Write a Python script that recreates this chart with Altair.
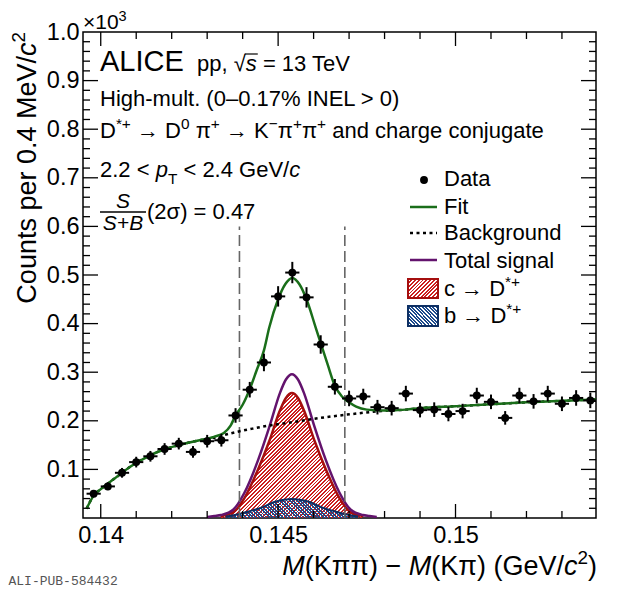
import altair as alt
import pandas as pd

# ---------------- values ----------------
mass = [0.1398, 0.1402, 0.1406, 0.1410, 0.1414, 0.1418, 0.1422, 0.1426, 0.1430, 0.1434,
        0.1438, 0.1442, 0.1446, 0.1450, 0.1454, 0.1458, 0.1462, 0.1466, 0.1470, 0.1474,
        0.1478, 0.1482, 0.1486, 0.1490, 0.1494, 0.1498, 0.1502, 0.1506, 0.1510, 0.1514,
        0.1518, 0.1522, 0.1526, 0.1530, 0.1534, 0.1538]
counts = [50, 65, 93, 115, 127, 142, 153, 136, 158, 160,
          211, 264, 320, 456, 505, 454, 357, 270, 246, 250,
          228, 226, 256, 222, 223, 214, 220, 252, 239, 206,
          252, 240, 256, 235, 247, 242]
errors = [7, 8, 10, 11, 11, 12, 12, 12, 13, 13,
          15, 16, 18, 21, 22, 21, 19, 16, 16, 16,
          15, 15, 16, 15, 15, 15, 15, 16, 15, 14,
          16, 15, 16, 15, 16, 16]
half_bin = 0.0002

fit_x = [0.13960, 0.13980, 0.14001, 0.14037, 0.14084, 0.14131, 0.14178, 0.14225, 0.14272, 0.14319,
         0.14347, 0.14366, 0.14380, 0.14400, 0.14420, 0.14440, 0.14460, 0.14475, 0.14500, 0.14520,
         0.14540, 0.14560, 0.14580, 0.14605, 0.14620, 0.14640, 0.14660, 0.14680, 0.14700, 0.14720,
         0.14750, 0.14800, 0.14860, 0.14900, 0.15000, 0.15100, 0.15200, 0.15300, 0.15396]
fit_y = [19, 46, 60, 80, 106, 126, 141, 151, 159, 167,
         175, 190, 211, 233, 265, 305, 345, 392, 450, 481,
         494, 481, 450, 394, 360, 315, 272, 250, 238, 229,
         223, 221, 223, 226, 230, 234, 238, 241, 244]

bkg_x = [0.13960, 0.13980, 0.14001, 0.14037, 0.14084, 0.14131, 0.14178, 0.14225, 0.14272, 0.14319,
         0.14365, 0.14395, 0.14422, 0.14480, 0.14538, 0.14600, 0.14686, 0.14790, 0.14860, 0.14900,
         0.15000, 0.15100, 0.15200, 0.15300, 0.15396]
bkg_y = [19, 46, 60, 80, 106, 126, 141, 151, 159, 165,
         174, 179, 183, 191, 197, 204, 212, 220, 223, 226,
         230, 234, 238, 241, 244]

sig_x = [0.14300, 0.14320, 0.14339, 0.14374, 0.14405, 0.14444, 0.14476, 0.14505, 0.14522, 0.14539,
         0.14556, 0.14573, 0.14602, 0.14634, 0.14673, 0.14704, 0.14739, 0.14758, 0.14778]
sig_y = [2, 4, 6, 17.5, 52, 120, 189, 257, 285, 296,
         285, 257, 189, 120, 52, 17.5, 6, 4, 2]

c_x = [0.14337, 0.14374, 0.14405, 0.14444, 0.14476, 0.14505, 0.14522, 0.14539,
       0.14556, 0.14573, 0.14602, 0.14634, 0.14673, 0.14704, 0.14741]
c_y = [4, 12, 41, 101, 160, 221, 247, 257, 247, 221, 160, 101, 41, 12, 4]

b_x = [0.14352, 0.14384, 0.14419, 0.14448, 0.14494, 0.14517, 0.14539,
       0.14561, 0.14584, 0.14630, 0.14659, 0.14694, 0.14726]
b_y = [2.5, 7, 14, 20, 34, 37.5, 39, 37.5, 34, 20, 14, 7, 2.5]

window_x = [0.14391, 0.14688]
window_top = 600

x_major = [0.140, 0.145, 0.150]
x_minor = [0.141, 0.142, 0.143, 0.144, 0.146, 0.147, 0.148, 0.149, 0.151, 0.152, 0.153]
y_labels = [100, 200, 300, 400, 500, 600, 700, 800, 900, 1000]
y_minor = [v for v in range(20, 1000, 20) if v % 100 != 0]

# ---------------- geometry / style ----------------
XD = [0.1395, 0.15396]
YD = [0, 1000]
PW, PH = 513, 486
OX, OY = 83, 32          # page position of plot origin
FONT = "Liberation Sans"
GREEN = "#1a6e1a"
PURPLE = "#63136d"
RED = "#cc1f1f"
RED_LINE = "#a50f0f"
BLUE = "#1c4a8c"
BLUE_LINE = "#0d2f63"

xs = alt.Scale(domain=XD, nice=False, zero=False)
ys = alt.Scale(domain=YD, nice=False, zero=False)
ax_x = alt.Axis(values=x_major, format=".3~f", title=None, ticks=False, tickSize=0, domain=False,
                grid=False, labelFont=FONT, labelFontSize=23.5, labelColor="black",
                labelPadding=5, labelFlush=False, labelOverlap=False)
ax_y = alt.Axis(values=y_labels, labelExpr="format(datum.value/1000, '.1f')", title=None,
                ticks=False, tickSize=0, domain=False, grid=False, labelFont=FONT,
                labelFontSize=23.5, labelColor="black", labelPadding=4, labelFlush=False,
                labelOverlap=False)


def X(f):
    return alt.X(f, scale=xs, axis=ax_x)


def Y(f):
    return alt.Y(f, scale=ys, axis=ax_y)


def hatch(color, W, H, period, frac, direction):
    n = max(1, round((W + H) / (2 ** 0.5 * period)))
    k = (W + H) / (W * W + H * H)
    if direction == "/":
        x1, y1, x2, y2 = 0, 0, W * k, H * k
    else:
        x1, y1, x2, y2 = 0, 1, W * k, 1 - H * k
    clear = "rgba(255,255,255,0)"
    stops = []
    for i in range(n):
        a = i / n
        b = min(1.0, (i + frac) / n)
        c = min(1.0, (i + 1) / n)
        stops += [alt.GradientStop(offset=a, color=color), alt.GradientStop(offset=b, color=color),
                  alt.GradientStop(offset=b, color=clear), alt.GradientStop(offset=c, color=clear)]
    return alt.Gradient(gradient="linear", stops=stops, x1=x1, y1=y1, x2=x2, y2=y2)


# ---------------- text layout helpers ----------------
WT = {' ': 278, '!': 278, '%': 889, '(': 333, ')': 333, '*': 389, '+': 584, ',': 278, '-': 333,
      '.': 278, '/': 278, '<': 584, '=': 584, '>': 584,
      'A': 667, 'B': 667, 'C': 722, 'D': 722, 'E': 667, 'G': 778, 'H': 722, 'I': 278, 'K': 667,
      'L': 556, 'M': 833, 'N': 722, 'S': 667, 'T': 611, 'V': 667,
      'a': 556, 'b': 556, 'c': 500, 'd': 556, 'e': 556, 'g': 556, 'h': 556, 'i': 222, 'j': 222,
      'k': 500, 'l': 222, 'm': 833, 'n': 556, 'o': 556, 'p': 556, 'r': 333, 's': 500, 't': 278,
      'u': 556, 'v': 500, '–': 556, '−': 584, '→': 1000, 'π': 690, 'σ': 620, '√': 549, '×': 584}


def tw(s, size):
    return sum(WT.get(ch, 556) for ch in s) / 1000.0 * size


rows = []


def seg_rows(segs, x, y, size, angle=0):
    """Place text segments one after another; leading/trailing blanks become offsets
    (Vega trims blanks from text)."""
    pos = 0.0
    for text, kind in segs:
        s, off = size, 0.0
        if kind in ("sup", "isup"):
            s, off = size * 0.7, -0.42 * size
        elif kind == "sub":
            s, off = size * 0.7, 0.3 * size
        italic = kind in ("i", "isup")
        lead = len(text) - len(text.lstrip(" "))
        start = pos + tw(" " * lead, s)
        if angle == 0:
            px, py = x + start, y + off
        else:
            px, py = x + off, y - start
        core = text.strip(" ")
        if core:
            rows.append(dict(xo=px, yo=py, t=core, s=s, it=italic, a=angle))
        pos += tw(text, s)
    return pos


def total(segs, size):
    t = 0.0
    for text, kind in segs:
        t += tw(text, size * 0.7 if kind in ("sup", "isup", "sub") else size)
    return t


seg_rows([("×10", "n")], 83, 29, 21)
rows.append(dict(xo=83 + tw("×10", 21), yo=21, t="3", s=14.5, it=False, a=0))
seg_rows([("ALICE", "n")], 100, 71, 29)
pp_segs = [("pp, ", "n"), ("√", "n"), ("s", "i"), (" = 13 TeV", "n")]
seg_rows(pp_segs, 197, 71, 22)
s_x0 = 197 + tw("pp, √", 22)
seg_rows([("High-mult. (0–0.17% INEL > 0)", "n")], 100, 106, 22)
seg_rows([("D", "n"), ("*+", "sup"), (" → D", "n"), ("0", "sup"), (" π", "n"), ("+", "sup"),
          (" → K", "n"), ("−", "sup"), ("π", "n"), ("+", "sup"), ("π", "n"), ("+", "sup"),
          (" and charge conjugate", "n")], 100, 138, 22)
seg_rows([("2.2 < ", "n"), ("p", "i"), ("T", "sub"), (" < 2.4 GeV/", "n"), ("c", "i")], 100, 177, 22)
seg_rows([("S", "i")], 123 - tw("S", 21) / 2, 208, 21)
seg_rows([("S+B", "i")], 123 - tw("S+B", 21) / 2, 230, 21)
seg_rows([("(2σ) = 0.47", "n")], 147, 219, 22)
# legend labels
seg_rows([("Data", "n")], 444, 186, 22)
seg_rows([("Fit", "n")], 444, 214, 22)
seg_rows([("Background", "n")], 444, 240, 22)
seg_rows([("Total signal", "n")], 444, 268, 22)
seg_rows([("c → D", "n"), ("*+", "sup")], 444, 296, 22)
seg_rows([("b → D", "n"), ("*+", "sup")], 444, 323, 22)
# axis titles
xt = [("M", "i"), ("(Kππ) − ", "n"), ("M", "i"), ("(Kπ) (GeV/", "n"), ("c", "i"), ("2", "sup"), (")", "n")]
seg_rows(xt, 597 - total(xt, 27), 575, 27)
yt = [("Counts per 0.4 MeV/", "n"), ("c", "i"), ("2", "sup")]
seg_rows(yt, 36, 32 + total(yt, 27), 27, angle=270)


def to_data(xo, yo):
    return (XD[0] + (xo - OX) / PW * (XD[1] - XD[0]),
            YD[1] - (yo - OY) / PH * (YD[1] - YD[0]))


for r in rows:
    r["xd"], r["yd"] = to_data(r["xo"], r["yo"])
txt = pd.DataFrame(rows)

mono_x, mono_y = to_data(8.5, 585)
mono = pd.DataFrame({"xd": [mono_x], "yd": [mono_y], "t": ["ALI-PUB-584432"]})

# ---------------- data frames ----------------
pts = pd.DataFrame({"m": mass, "n": counts, "e": errors})
pts["lo"] = pts["n"] - pts["e"]
pts["hi"] = pts["n"] + pts["e"]
pts["xl"] = pts["m"] - half_bin
pts["xh"] = pts["m"] + half_bin

fit = pd.DataFrame({"m": fit_x, "n": fit_y})
bkg = pd.DataFrame({"m": bkg_x, "n": bkg_y})
sig = pd.DataFrame({"m": sig_x, "n": sig_y})
cc = pd.DataFrame({"m": c_x, "n": c_y})
bb = pd.DataFrame({"m": b_x, "n": b_y})
win = pd.DataFrame({"m": window_x, "lo": [0, 0], "hi": [window_top, window_top]})

W_RED = (max(c_x) - min(c_x)) / (XD[1] - XD[0]) * PW
H_RED = max(c_y) / YD[1] * PH
W_BLUE = (max(b_x) - min(b_x)) / (XD[1] - XD[0]) * PW
H_BLUE = max(b_y) / YD[1] * PH

layers = []
# filled components
layers.append(alt.Chart(cc).mark_area(interpolate="monotone",
              fill=hatch(RED, W_RED, H_RED, 2.6, 0.5, "/")).encode(x=X("m:Q"), y=Y("n:Q")))
layers.append(alt.Chart(bb).mark_area(interpolate="monotone",
              fill=hatch(BLUE, W_BLUE, H_BLUE, 2.4, 0.55, "\\")).encode(x=X("m:Q"), y=Y("n:Q")))
layers.append(alt.Chart(cc).mark_line(interpolate="monotone", color=RED_LINE, strokeWidth=2.5)
              .encode(x=X("m:Q"), y=Y("n:Q")))
layers.append(alt.Chart(bb).mark_line(interpolate="monotone", color=BLUE_LINE, strokeWidth=2)
              .encode(x=X("m:Q"), y=Y("n:Q")))
layers.append(alt.Chart(sig).mark_line(interpolate="monotone", color=PURPLE, strokeWidth=2.5)
              .encode(x=X("m:Q"), y=Y("n:Q")))
# 2 sigma window
layers.append(alt.Chart(win).mark_rule(color="#666666", strokeDash=[11, 5], strokeWidth=1.6)
              .encode(x=X("m:Q"), y=Y("lo:Q"), y2="hi:Q"))
# background and fit
layers.append(alt.Chart(bkg).mark_line(interpolate="monotone", color="black", strokeWidth=2.5,
                                       strokeDash=[3, 3.5]).encode(x=X("m:Q"), y=Y("n:Q")))
layers.append(alt.Chart(fit).mark_line(interpolate="monotone", color=GREEN, strokeWidth=2.5, clip=True)
              .encode(x=X("m:Q"), y=Y("n:Q")))
# data
layers.append(alt.Chart(pts).mark_rule(color="black", strokeWidth=2)
              .encode(x=X("m:Q"), y=Y("lo:Q"), y2="hi:Q"))
layers.append(alt.Chart(pts).mark_rule(color="black", strokeWidth=2, clip=True)
              .encode(x=X("xl:Q"), x2="xh:Q", y=Y("n:Q")))
layers.append(alt.Chart(pts).mark_point(filled=True, shape="circle", size=62, color="black", opacity=1)
              .encode(x=X("m:Q"), y=Y("n:Q")))

# frame ticks (inside, on all four sides)
xM = pd.DataFrame({"v": x_major})
xm = pd.DataFrame({"v": x_minor})
yM = pd.DataFrame({"v": y_labels[:-1]})
ym = pd.DataFrame({"v": y_minor})
tk = dict(color="black", strokeWidth=1.3)
for df, L in ((xM, 14), (xm, 7)):
    layers.append(alt.Chart(df).mark_rule(**tk).encode(x=X("v:Q"), y=alt.value(PH), y2=alt.value(PH - L)))
    layers.append(alt.Chart(df).mark_rule(**tk).encode(x=X("v:Q"), y=alt.value(0), y2=alt.value(L)))
for df, L in ((yM, 15), (ym, 7)):
    layers.append(alt.Chart(df).mark_rule(**tk).encode(y=Y("v:Q"), x=alt.value(0), x2=alt.value(L)))
    layers.append(alt.Chart(df).mark_rule(**tk).encode(y=Y("v:Q"), x=alt.value(PW), x2=alt.value(PW - L)))

# legend symbols
leg = pd.DataFrame({"k": [0]})
layers.append(alt.Chart(leg).mark_point(filled=True, shape="circle", size=62, color="black", opacity=1)
              .encode(x=alt.value(341), y=alt.value(148)))
layers.append(alt.Chart(leg).mark_rule(color=GREEN, strokeWidth=2.5)
              .encode(x=alt.value(327), x2=alt.value(354), y=alt.value(175)))
layers.append(alt.Chart(leg).mark_rule(color="black", strokeWidth=2.5, strokeDash=[3, 3.5])
              .encode(x=alt.value(327), x2=alt.value(354), y=alt.value(201)))
layers.append(alt.Chart(leg).mark_rule(color=PURPLE, strokeWidth=2.5)
              .encode(x=alt.value(327), x2=alt.value(354), y=alt.value(228)))
layers.append(alt.Chart(leg).mark_rect(fill=hatch(RED, 30, 19, 2.6, 0.5, "/"), stroke=RED_LINE, strokeWidth=2)
              .encode(x=alt.value(325), x2=alt.value(355), y=alt.value(247), y2=alt.value(266)))
layers.append(alt.Chart(leg).mark_rect(fill=hatch(BLUE, 30, 19, 2.4, 0.55, "\\"), stroke=BLUE_LINE, strokeWidth=2)
              .encode(x=alt.value(325), x2=alt.value(355), y=alt.value(274), y2=alt.value(294)))
# overline of sqrt(s) and fraction bar
layers.append(alt.Chart(leg).mark_rule(color="black", strokeWidth=1.2)
              .encode(x=alt.value(s_x0 - OX - 1), x2=alt.value(s_x0 - OX + tw("s", 22) + 1),
                      y=alt.value(71 - 17 - OY)))
layers.append(alt.Chart(leg).mark_rule(color="black", strokeWidth=1.4)
              .encode(x=alt.value(100 - OX), x2=alt.value(146 - OX), y=alt.value(212 - OY)))

# texts
for it in (False, True):
    for ang in (0, 270):
        sub = txt[(txt["it"] == it) & (txt["a"] == ang)]
        if len(sub) == 0:
            continue
        mk = dict(align="left", baseline="alphabetic", font=FONT, color="black")
        if it:
            mk["fontStyle"] = "italic"
        if ang:
            mk["angle"] = ang
        layers.append(alt.Chart(sub[["xd", "yd", "t", "s"]]).mark_text(**mk).encode(
            x=X("xd:Q"), y=Y("yd:Q"), text=alt.Text("t:N"), size=alt.Size("s:Q", scale=None)))
layers.append(alt.Chart(mono).mark_text(align="left", baseline="alphabetic", font="Liberation Mono",
                                        fontSize=13, color="#555555")
              .encode(x=X("xd:Q"), y=Y("yd:Q"), text=alt.Text("t:N")))

chart = alt.layer(*layers).properties(
    width=PW, height=PH,
    autosize=alt.AutoSizeParams(type="none"),
    padding={"left": OX - 8, "top": OY - 8, "right": 12, "bottom": 72},
    background="white",
).configure_view(stroke="black", strokeWidth=1.5)

chart.save("out.html", embed_options={"renderer": "svg", "actions": False})
